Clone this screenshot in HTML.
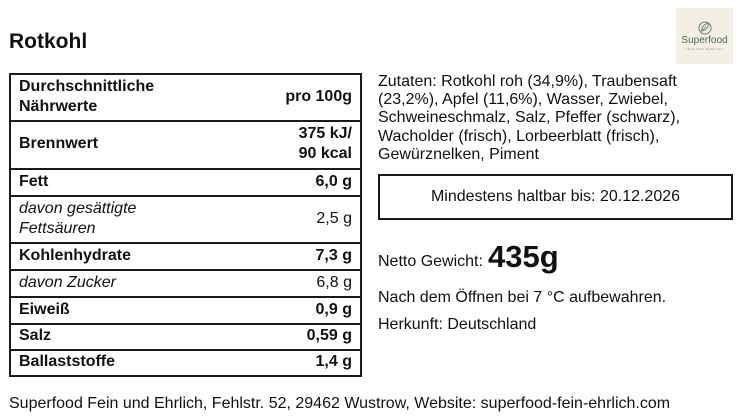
<!DOCTYPE html>
<html>
<head>
<meta charset="utf-8">
<style>
  html,body{margin:0;padding:0;background:#fff;}
  body{width:742px;height:416px;position:relative;overflow:hidden;
       font-family:"Liberation Sans",Arial,sans-serif;color:#111;font-size:16px;}
  .abs{position:absolute;white-space:nowrap;}
  .title{left:9px;top:30px;font-size:21px;font-weight:bold;line-height:24px;}
  .tbl{position:absolute;left:9px;top:73px;width:353px;height:304px;
       border-left:2px solid #1a1a1a;border-right:2px solid #1a1a1a;border-bottom:2px solid #1a1a1a;
       box-sizing:border-box;}
  .row{position:absolute;left:0;width:100%;border-top:2px solid #1a1a1a;box-sizing:border-box;
       display:flex;align-items:center;justify-content:space-between;
       padding:0 8px 2px 8px;line-height:20px;}
  .b{font-weight:bold;}
  .i{font-style:italic;}
  .r{text-align:right;}
  .ing{left:378px;top:72.5px;line-height:18.4px;}
  .mhd{position:absolute;left:378px;top:174px;width:355px;height:46px;box-sizing:border-box;
       border:2px solid #1a1a1a;text-align:center;line-height:42px;}
  .logo{position:absolute;left:676px;top:8px;width:57px;height:56px;background:#f3efe5;}
</style>
</head>
<body>
<div class="abs title">Rotkohl</div>

<div class="tbl">
  <div class="row" style="top:0;height:47px;"><div class="b">Durchschnittliche<br>Nährwerte</div><div class="b r">pro 100g</div></div>
  <div class="row" style="top:47px;height:48px;"><div class="b">Brennwert</div><div class="b r">375 kJ/<br>90 kcal</div></div>
  <div class="row" style="top:95px;height:27px;"><div class="b">Fett</div><div class="b r">6,0 g</div></div>
  <div class="row" style="top:122px;height:47px;"><div class="i">davon gesättigte<br>Fettsäuren</div><div class="r">2,5 g</div></div>
  <div class="row" style="top:169px;height:27px;"><div class="b">Kohlenhydrate</div><div class="b r">7,3 g</div></div>
  <div class="row" style="top:196px;height:27px;"><div class="i">davon Zucker</div><div class="r">6,8 g</div></div>
  <div class="row" style="top:223px;height:27px;"><div class="b">Eiweiß</div><div class="b r">0,9 g</div></div>
  <div class="row" style="top:250px;height:26px;"><div class="b">Salz</div><div class="b r">0,59 g</div></div>
  <div class="row" style="top:276px;height:26px;"><div class="b">Ballaststoffe</div><div class="b r">1,4 g</div></div>
</div>

<div class="abs ing">Zutaten: Rotkohl roh (34,9%), Traubensaft<br>(23,2%), Apfel (11,6%), Wasser, Zwiebel,<br>Schweineschmalz, Salz, Pfeffer (schwarz),<br>Wacholder (frisch), Lorbeerblatt (frisch),<br>Gewürznelken, Piment</div>

<div class="mhd">Mindestens haltbar bis: 20.12.2026</div>

<div class="abs" style="left:378px;top:252.5px;line-height:18.4px;">Netto Gewicht:</div>
<div class="abs" style="left:488px;top:238.5px;font-size:31px;font-weight:bold;line-height:36px;">435g</div>

<div class="abs" style="left:378px;top:289.3px;line-height:18.4px;">Nach dem Öffnen bei 7 °C aufbewahren.</div>
<div class="abs" style="left:378px;top:316.3px;line-height:18.4px;">Herkunft: Deutschland</div>

<div class="abs" style="left:9px;top:395.3px;line-height:18.4px;">Superfood Fein und Ehrlich, Fehlstr. 52, 29462 Wustrow, Website: superfood-fein-ehrlich.com</div>

<div class="logo">
  <svg width="57" height="56" viewBox="0 0 57 56" style="position:absolute;left:0;top:0;">
    <circle cx="29" cy="20" r="6" fill="none" stroke="#6b7d72" stroke-width="1"/>
    <path d="M25.5 23 C26 18 29 15.5 32.5 15.5 C32.5 19.5 30 22.5 25.5 23 Z" fill="none" stroke="#6b7d72" stroke-width="0.9"/>
    <line x1="25.5" y1="23" x2="30" y2="18.5" stroke="#6b7d72" stroke-width="0.8"/>
    <text x="28.5" y="35" text-anchor="middle" font-family="Liberation Sans, sans-serif" font-size="10" fill="#4d6658">Superfood</text>
    <text x="28.5" y="42" text-anchor="middle" font-family="Liberation Sans, sans-serif" font-size="3" fill="#8a958e" letter-spacing="0.6">FEIN UND EHRLICH</text>
  </svg>
</div>
</body>
</html>
